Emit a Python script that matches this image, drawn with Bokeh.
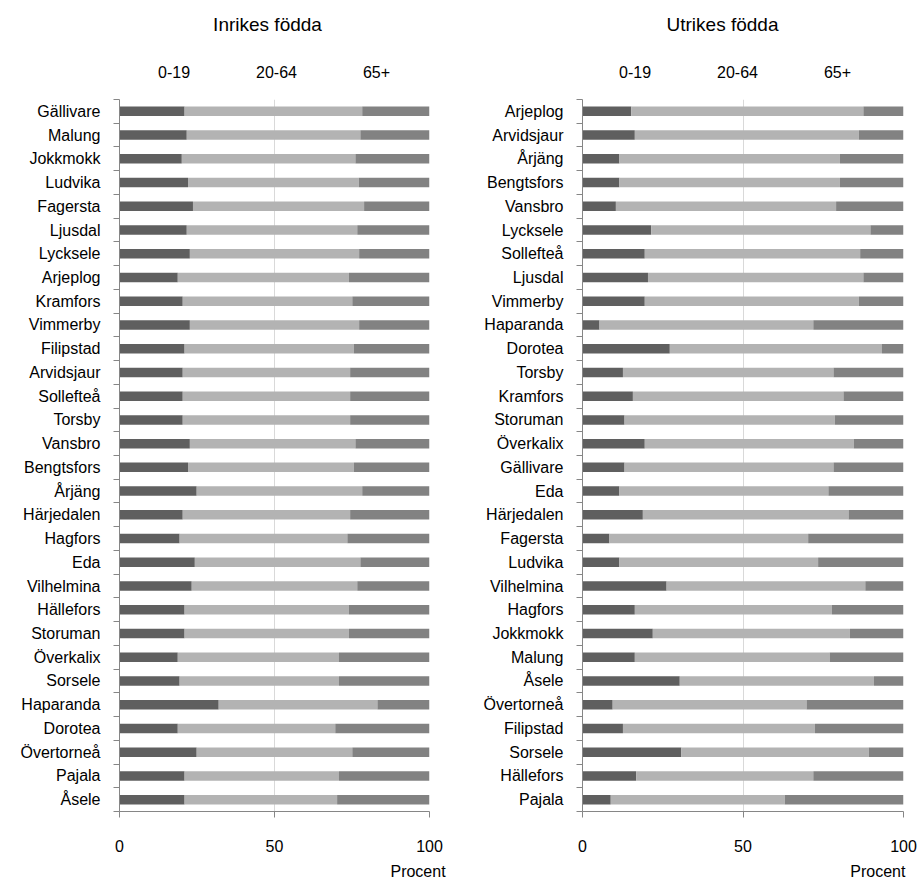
from bokeh.plotting import figure
from bokeh.models import (Range1d, LinearAxis, FixedTicker, CustomJSTickFormatter, Legend,
                          LegendItem, Label, ColumnDataSource)
from bokeh.core.properties import value
from bokeh.layouts import row, column
from bokeh.embed import file_html
from bokeh.resources import INLINE

age_groups = ["0-19", "20-64", "65+"]
colors = ["#5f5f5f", "#b3b3b3", "#828282"]
x_ticks = [0, 50, 100]
x_label = "Procent"

# Inrikes födda (percent)
inrikes_names = ["Gällivare", "Malung", "Jokkmokk", "Ludvika", "Fagersta", "Ljusdal", "Lycksele",
                 "Arjeplog", "Kramfors", "Vimmerby", "Filipstad", "Arvidsjaur", "Sollefteå", "Torsby",
                 "Vansbro", "Bengtsfors", "Årjäng", "Härjedalen", "Hagfors", "Eda", "Vilhelmina",
                 "Hällefors", "Storuman", "Överkalix", "Sorsele", "Haparanda", "Dorotea", "Övertorneå",
                 "Pajala", "Åsele"]
inrikes_0_19 = [21.0, 21.7, 20.1, 22.1, 23.7, 21.7, 22.7, 18.8, 20.4, 22.7, 21.0, 20.4, 20.4, 20.4,
                22.7, 22.1, 24.9, 20.4, 19.4, 24.3, 23.3, 21.0, 21.0, 18.8, 19.4, 32.0, 18.8, 24.9,
                21.0, 21.0]
inrikes_20_64 = [57.3, 56.0, 56.0, 55.1, 55.2, 55.0, 54.6, 55.2, 54.7, 54.6, 54.6, 54.0, 54.0, 54.0,
                 53.4, 53.5, 53.4, 54.0, 54.1, 53.4, 53.4, 53.0, 53.0, 52.0, 51.4, 51.2, 50.8, 50.2,
                 49.8, 49.2]
inrikes_65 = [21.7, 22.3, 23.9, 22.8, 21.1, 23.3, 22.7, 26.0, 24.9, 22.7, 24.4, 25.6, 25.6, 25.6,
              23.9, 24.4, 21.7, 25.6, 26.5, 22.3, 23.3, 26.0, 26.0, 29.2, 29.2, 16.8, 30.4, 24.9,
              29.2, 29.8]

# Utrikes födda (percent)
utrikes_names = ["Arjeplog", "Arvidsjaur", "Årjäng", "Bengtsfors", "Vansbro", "Lycksele", "Sollefteå",
                 "Ljusdal", "Vimmerby", "Haparanda", "Dorotea", "Torsby", "Kramfors", "Storuman",
                 "Överkalix", "Gällivare", "Eda", "Härjedalen", "Fagersta", "Ludvika", "Vilhelmina",
                 "Hagfors", "Jokkmokk", "Malung", "Åsele", "Övertorneå", "Filipstad", "Sorsele",
                 "Hällefors", "Pajala"]
utrikes_0_19 = [15.2, 16.3, 11.5, 11.5, 10.4, 21.4, 19.4, 20.4, 19.4, 5.3, 27.2, 12.6, 15.7, 13.1,
                19.4, 13.1, 11.5, 18.8, 8.4, 11.5, 26.2, 16.3, 21.9, 16.3, 30.3, 9.4, 12.6, 30.8,
                16.7, 8.8]
utrikes_20_64 = [72.3, 69.8, 68.7, 68.7, 68.6, 68.3, 67.1, 67.1, 66.7, 66.6, 66.1, 65.6, 65.6, 65.5,
                 65.1, 65.1, 65.1, 64.1, 61.9, 61.9, 61.9, 61.4, 61.4, 60.7, 60.5, 60.4, 59.8, 58.4,
                 55.2, 54.2]
utrikes_65 = [12.5, 13.9, 19.8, 19.8, 21.0, 10.3, 13.5, 12.5, 13.9, 28.1, 6.7, 21.8, 18.7, 21.4,
              15.5, 21.8, 23.4, 17.1, 29.7, 26.6, 11.9, 22.3, 16.7, 23.0, 9.2, 30.2, 27.6, 10.8,
              28.1, 37.0]

FONT = "Liberation Sans"
AXIS_COL = "#868686"
HEAD_H = 99
MAIN_H = 883 - HEAD_H


def make_header(title, width, title_x, legend_x):
    h = figure(width=width, height=HEAD_H, x_range=Range1d(0, width), y_range=Range1d(0, HEAD_H),
               output_backend="svg", toolbar_location=None, title=None,
               x_axis_location=None, y_axis_location=None, min_border=0)
    h.outline_line_color = None
    h.grid.visible = False
    # legend swatches (no data, legend only)
    rs = []
    for c in colors:
        src = ColumnDataSource(dict(y=[], left=[], right=[]))
        rs.append(h.hbar(y="y", left="left", right="right", height=1, source=src,
                         fill_color=c, line_color=None))
    items = [LegendItem(label=value(g), renderers=[r]) for g, r in zip(age_groups, rs)]
    leg = Legend(items=items, orientation="horizontal", location=(legend_x, 16),
                 glyph_width=8, glyph_height=8, label_standoff=3, spacing=55,
                 padding=0, margin=0, border_line_color=None, background_fill_alpha=0,
                 label_text_font=FONT, label_text_font_size="16px",
                 label_text_color="black", label_height=20)
    h.add_layout(leg, "center")
    h.add_layout(Label(x=title_x, y=HEAD_H - 24, x_units="screen", y_units="screen",
                       text=title, text_align="center", text_baseline="middle",
                       text_font=FONT, text_font_size="19px", text_color="black"))
    return h


def make_panel(names, v1, v2, v3, width, border_left, border_right, procent_at):
    n = len(names)
    # category slots: first name at the top
    pos = [n - i - 0.5 for i in range(n)]
    src = ColumnDataSource(dict(name=names, pos=pos, a=v1, b=v2, c=v3))
    p = figure(width=width, height=MAIN_H, title=None,
               y_range=Range1d(0, n), x_range=Range1d(0, 100),
               output_backend="svg", toolbar_location=None, y_axis_location=None,
               min_border_left=border_left, min_border_right=border_right,
               min_border_top=0, min_border_bottom=MAIN_H - (811 - HEAD_H))
    p.outline_line_color = None
    p.background_fill_color = "white"

    p.hbar_stack(["a", "b", "c"], y="pos", height=0.4, fill_color=colors,
                 line_color=None, source=src)

    # boundary ticks (Excel style), nearest the frame
    tick_axis = LinearAxis(ticker=FixedTicker(ticks=list(range(n + 1))),
                           formatter=CustomJSTickFormatter(code="return ''"),
                           major_tick_out=6, major_tick_in=0,
                           minor_tick_out=0, minor_tick_in=0,
                           major_label_standoff=0, major_label_text_font_size="1px",
                           axis_line_color=AXIS_COL, major_tick_line_color=AXIS_COL)
    p.add_layout(tick_axis, "left")
    # category names at slot centres
    name_axis = LinearAxis(ticker=FixedTicker(ticks=pos),
                           major_label_overrides={y: nm for y, nm in zip(pos, names)},
                           major_tick_line_color=None, axis_line_color=None,
                           major_tick_out=0, major_tick_in=0,
                           minor_tick_out=0, minor_tick_in=0,
                           major_label_standoff=13,
                           major_label_text_font=FONT,
                           major_label_text_font_size="16px",
                           major_label_text_color="black")
    p.add_layout(name_axis, "left")

    xa = p.xaxis[0]
    xa.ticker = FixedTicker(ticks=x_ticks)
    xa.major_tick_out = 6
    xa.major_tick_in = 0
    xa.minor_tick_out = 0
    xa.minor_tick_in = 0
    xa.axis_line_color = AXIS_COL
    xa.major_tick_line_color = AXIS_COL
    xa.major_label_standoff = 22
    xa.major_label_text_font = FONT
    xa.major_label_text_font_size = "16px"
    xa.major_label_text_color = "black"

    # "Procent" label under the right end of the axis
    unit_axis = LinearAxis(ticker=FixedTicker(ticks=[procent_at]),
                           major_label_overrides={procent_at: x_label},
                           axis_line_color=None, major_tick_line_color=None,
                           major_tick_out=0, major_tick_in=0,
                           minor_tick_out=0, minor_tick_in=0,
                           major_label_standoff=8,
                           major_label_text_font=FONT,
                           major_label_text_font_size="16px",
                           major_label_text_color="black")
    p.add_layout(unit_axis, "below")

    p.xgrid.grid_line_color = "#d9d9d9"
    p.xgrid.grid_line_width = 1
    p.ygrid.visible = False
    return p


h1 = make_header("Inrikes födda", width=468, title_x=267, legend_x=147)
h2 = make_header("Utrikes födda", width=450, title_x=254, legend_x=140)
p1 = make_panel(inrikes_names, inrikes_0_19, inrikes_20_64, inrikes_65,
                width=468, border_left=119, border_right=39, procent_at=96.3)
p2 = make_panel(utrikes_names, utrikes_0_19, utrikes_20_64, utrikes_65,
                width=450, border_left=114, border_right=15, procent_at=92.0)

layout = column(row(h1, h2), row(p1, p2))
open("out.html", "w").write(file_html(layout, INLINE))
